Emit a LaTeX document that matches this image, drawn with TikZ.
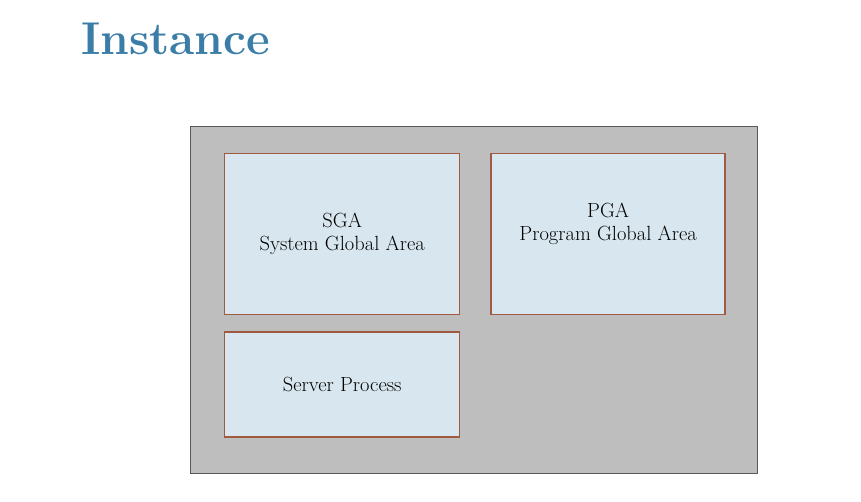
\documentclass[tikz,border=0pt]{standalone}
\usetikzlibrary{positioning}
\definecolor{titleblue}{HTML}{3A7DA6}
\definecolor{instgray}{HTML}{BEBEBE}
\definecolor{areafill}{HTML}{D8E7EF}
\definecolor{areaedge}{HTML}{A05A40}
\begin{document}
\begin{tikzpicture}
  [x=1pt, y=1pt, node distance=16pt and 30pt,
   every node/.style={font=\fontsize{20.5}{23}\selectfont, align=center, inner sep=0pt},
   area/.style={draw=areaedge, fill=areafill, line width=1.4pt, minimum width=235pt, minimum height=161pt}]

  \useasboundingbox (0,0) rectangle (861,-502);

  \node[anchor=base west, font=\fontsize{46}{52}\selectfont\bfseries, text=titleblue] (title) at (81,-55) {Instance};

  \node[draw=black!65, fill=instgray, line width=0.8pt, minimum width=567pt, minimum height=347pt] (instance) at (473.5,-299.5) {};

  \node[area, anchor=north west] (sga) at (224,-153) {SGA\\System Global Area};
  \node[area, minimum width=234pt, right=30pt of sga] (pga) {};
  \node (pgatext) at ([yshift=10pt]pga.center) {PGA\\Program Global Area};
  \node[area, minimum height=105pt, below=16pt of sga] (server) {Server Process};
\end{tikzpicture}
\end{document}
